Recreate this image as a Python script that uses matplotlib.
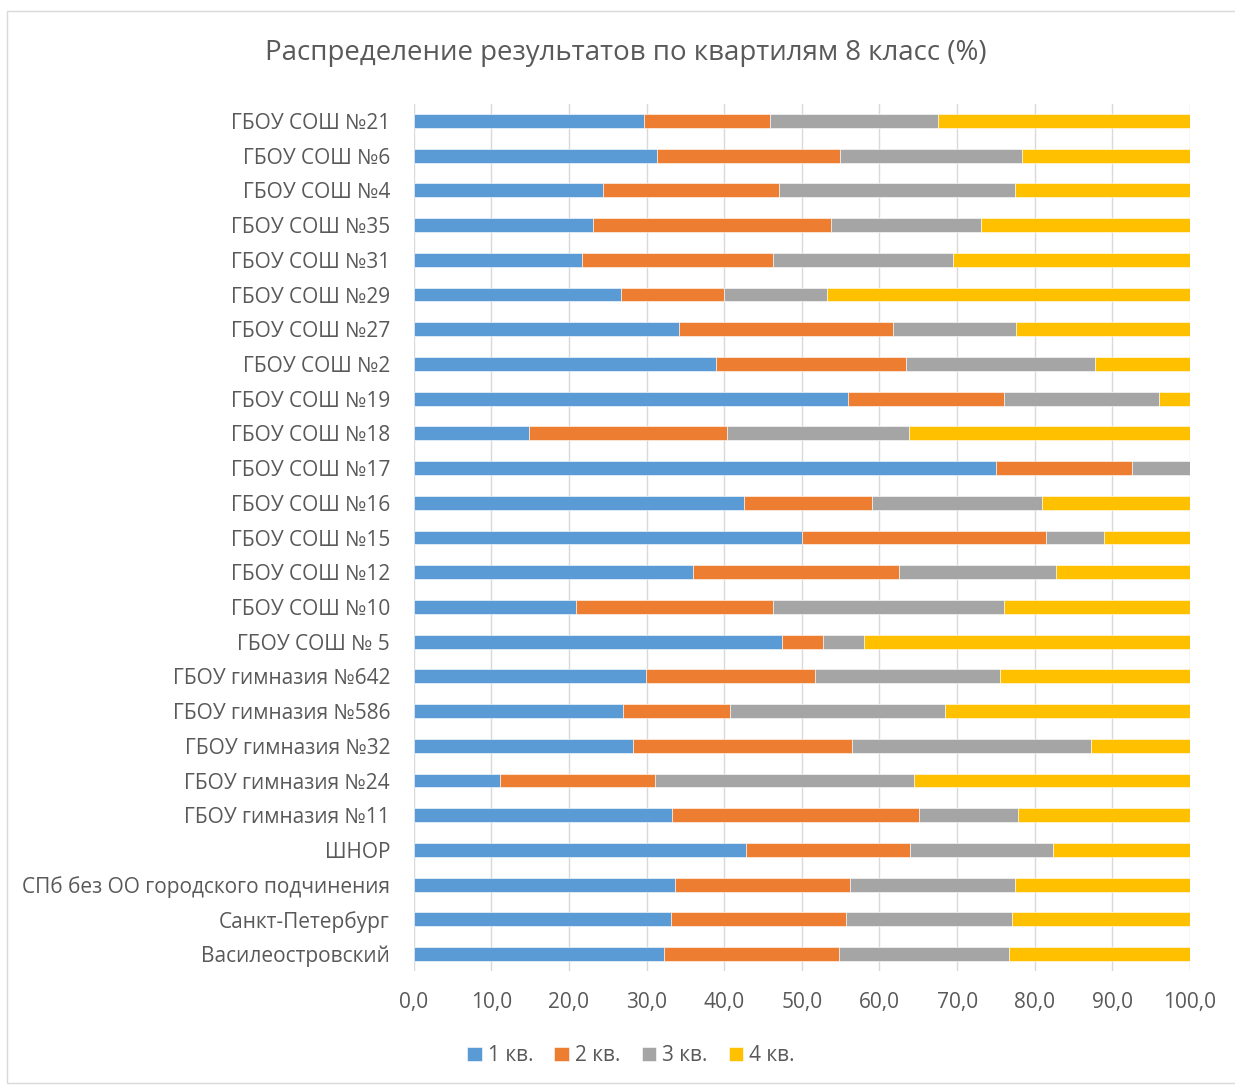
import matplotlib.pyplot as plt
from matplotlib.patches import Rectangle

schools = ['ГБОУ СОШ №21', 'ГБОУ СОШ №6', 'ГБОУ СОШ №4', 'ГБОУ СОШ №35',
           'ГБОУ СОШ №31', 'ГБОУ СОШ №29', 'ГБОУ СОШ №27', 'ГБОУ СОШ №2',
           'ГБОУ СОШ №19', 'ГБОУ СОШ №18', 'ГБОУ СОШ №17', 'ГБОУ СОШ №16',
           'ГБОУ СОШ №15', 'ГБОУ СОШ №12', 'ГБОУ СОШ №10', 'ГБОУ СОШ № 5',
           'ГБОУ гимназия №642', 'ГБОУ гимназия №586', 'ГБОУ гимназия №32',
           'ГБОУ гимназия №24', 'ГБОУ гимназия №11', 'ШНОР',
           'СПб без ОО городского подчинения', 'Санкт-Петербург',
           'Василеостровский']

q1 = [29.7, 31.4, 24.4, 23.1, 21.7, 26.7, 34.2, 39.0, 56.0, 14.9, 75.0, 42.5,
      50.0, 36.0, 20.9, 47.4, 29.9, 26.9, 28.2, 11.1, 33.3, 42.8, 33.6, 33.2, 32.2]
q2 = [16.2, 23.5, 22.6, 30.7, 24.6, 13.3, 27.6, 24.4, 20.0, 25.5, 17.5, 16.5,
      31.5, 26.5, 25.4, 5.3, 21.8, 13.9, 28.2, 20.0, 31.8, 21.2, 22.6, 22.5, 22.6]
q3 = [21.6, 23.5, 30.5, 19.3, 23.2, 13.3, 15.8, 24.4, 20.0, 23.4, 7.5, 21.9,
      7.4, 20.3, 29.7, 5.3, 23.8, 27.7, 30.8, 33.4, 12.7, 18.4, 21.3, 21.4, 21.9]
q4 = [32.5, 21.6, 22.5, 26.9, 30.5, 46.7, 22.4, 12.2, 4.0, 36.2, 0.0, 19.1,
      11.1, 17.2, 24.0, 42.0, 24.5, 31.5, 12.8, 35.5, 22.2, 17.6, 22.5, 22.9, 23.3]

series = [q1, q2, q3, q4]
names = ['1 кв.', '2 кв.', '3 кв.', '4 кв.']
colors = ['#5B9BD5', '#ED7D31', '#A5A5A5', '#FFC000']

plt.rcParams['font.family'] = ['Open Sans', 'DejaVu Sans']
txt = '#595959'

fig = plt.figure(figsize=(12.35, 10.86), dpi=100)
ax = fig.add_axes([0.335, 0.1055, 0.6285, 0.7991])

y = range(len(schools))
left = [0.0] * len(schools)
for vals, name, col in zip(series, names, colors):
    ax.barh(y, vals, left=left, height=0.4, color=col, label=name,
            edgecolor='white', linewidth=0.4)
    left = [a + b for a, b in zip(left, vals)]

ax.set_xlim(0, 100)
ax.set_ylim(len(schools) - 0.5, -0.5)
ax.set_xticks(range(0, 101, 10))
ax.set_xticklabels([f'{v},0' for v in range(0, 101, 10)])
ax.set_yticks(list(y))
ax.set_yticklabels(schools)
ax.tick_params(axis='both', length=0, labelsize=15, colors=txt)
ax.tick_params(axis='y', pad=17)
ax.tick_params(axis='x', pad=15)
ax.grid(axis='x', color='#D9D9D9', linewidth=1.0)
ax.set_axisbelow(True)
for s in ax.spines.values():
    s.set_visible(False)

fig.text(0.507, 0.951, 'Распределение результатов по квартилям 8 класс (%)',
         ha='center', va='center', fontsize=19.9, color=txt)

leg = fig.legend(loc='center', bbox_to_anchor=(0.511, 0.028), ncol=4,
                 frameon=False, fontsize=15, handlelength=0.7,
                 handleheight=0.7, handletextpad=0.3, columnspacing=1.0)
for t in leg.get_texts():
    t.set_color(txt)

fig.patches.append(Rectangle((0.0057, 0.003), 1.2, 0.9868, transform=fig.transFigure,
                             fill=False, edgecolor='#D9D9D9', linewidth=1.0))

fig.savefig('out.png', dpi=100)
